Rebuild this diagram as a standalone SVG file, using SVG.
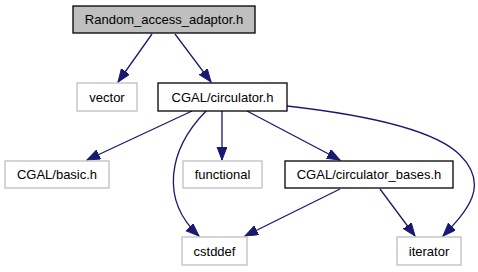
<svg xmlns="http://www.w3.org/2000/svg" width="478" height="272" viewBox="0 0 478 272">
  <style>
    .box { fill: #ffffff; stroke: #bfbfbf; stroke-width: 1.3; }
    .box.real { stroke: #000000; }
    .box.root { fill: #bfbfbf; stroke: #000000; }
    .label { font-family: "Liberation Sans", Arial, sans-serif; font-size: 13px; fill: #000000; text-anchor: middle; }
    .edge { fill: none; stroke: #191970; stroke-width: 1.3; marker-end: url(#arrow); }
  </style>
  <defs>
    <marker id="arrow" markerUnits="userSpaceOnUse" markerWidth="14" markerHeight="11" refX="13" refY="5" orient="auto">
      <path d="M0,0 L13,5 L0,10 Z" fill="#191970" stroke="#191970" stroke-width="1"/>
    </marker>
  </defs>

  <g id="edges">
    <path class="edge" d="M152,34 L118,82"/>
    <path class="edge" d="M175,34 L211,82"/>
    <path class="edge" d="M192,111 L87,160"/>
    <path class="edge" d="M206,111 C168,150 160,200 199,236"/>
    <path class="edge" d="M222,111 L222,160"/>
    <path class="edge" d="M247,111 L340,160"/>
    <path class="edge" d="M287,106 C340,112 430,125 460,155 C490,185 468,210 443,236"/>
    <path class="edge" d="M340,189 L245,236"/>
    <path class="edge" d="M380,189 L415,236"/>
  </g>

  <g id="node-random-access-adaptor">
    <rect class="box root" x="73" y="6" width="182" height="27"/>
    <text class="label" x="164" y="24">Random_access_adaptor.h</text>
  </g>
  <g id="node-vector">
    <rect class="box" x="77" y="83" width="60" height="28"/>
    <text class="label" x="107" y="101.5">vector</text>
  </g>
  <g id="node-circulator">
    <rect class="box real" x="158" y="83" width="129" height="28"/>
    <text class="label" x="222.5" y="101.5">CGAL/circulator.h</text>
  </g>
  <g id="node-basic">
    <rect class="box" x="5" y="161" width="104" height="27"/>
    <text class="label" x="57" y="179">CGAL/basic.h</text>
  </g>
  <g id="node-functional">
    <rect class="box" x="183" y="161" width="79" height="27"/>
    <text class="label" x="222.5" y="179">functional</text>
  </g>
  <g id="node-circulator-bases">
    <rect class="box real" x="285" y="161" width="168" height="27"/>
    <text class="label" x="369" y="179">CGAL/circulator_bases.h</text>
  </g>
  <g id="node-cstddef">
    <rect class="box" x="182" y="237" width="65" height="28"/>
    <text class="label" x="214.5" y="255.5">cstddef</text>
  </g>
  <g id="node-iterator">
    <rect class="box" x="397" y="237" width="64" height="28"/>
    <text class="label" x="429" y="255.5">iterator</text>
  </g>
</svg>
